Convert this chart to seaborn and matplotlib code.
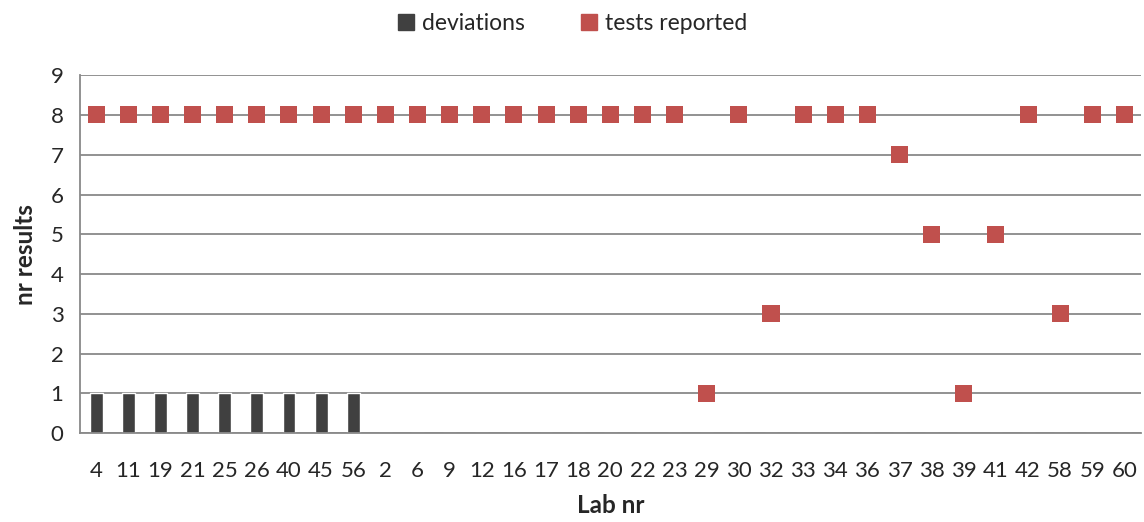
import numpy as np
import pandas as pd
import matplotlib
matplotlib.use("Agg")
import matplotlib.pyplot as plt
import seaborn as sns
from matplotlib.ticker import FixedLocator
from matplotlib.lines import Line2D

# --- data ---
LABS = ["4", "11", "19", "21", "25", "26", "40", "45", "56", "2", "6", "9", "12",
        "16", "17", "18", "20", "22", "23", "29", "30", "32", "33", "34", "36",
        "37", "38", "39", "41", "42", "58", "59", "60"]
DEVIATIONS = [1, 1, 1, 1, 1, 1, 1, 1, 1] + [0] * 24
TESTS_REPORTED = [8] * 19 + [1, 8, 3, 8, 8, 8, 7, 5, 1, 5, 8, 3, 8, 8]

BAR_COLOR = "#404040"
MARK_COLOR = "#C0504D"
GRID_COLOR = "#898989"

sns.set_style("white")
plt.rcParams["font.family"] = ["Lato", "DejaVu Sans"]

df = pd.DataFrame({"lab": LABS, "deviations": DEVIATIONS, "tests": TESTS_REPORTED})

fig = plt.figure(figsize=(11.44, 5.22), dpi=100)
ax = fig.add_axes([0.07, 0.17, 0.927, 0.686])

sns.barplot(data=df, x="lab", y="deviations", color=BAR_COLOR, width=0.4,
            saturation=1, ax=ax, zorder=2)
sns.scatterplot(data=df, x="lab", y="tests", marker="s", s=150, color=MARK_COLOR,
                edgecolor="none", ax=ax, zorder=3)

n = len(LABS)
ax.set_xlim(-0.5, n - 0.5)
ax.set_ylim(0, 9)
ax.set_yticks(range(10))
ax.yaxis.grid(True, color=GRID_COLOR, lw=1.3, zorder=0)
ax.set_axisbelow(True)

# category labels at centres, tick marks at the boundaries
ax.xaxis.set_minor_locator(FixedLocator(np.arange(-0.5, n, 1)))
ax.tick_params(axis="x", which="major", length=0, pad=20, labelsize=16)
ax.tick_params(axis="x", which="minor", length=8, color=GRID_COLOR, width=1.3)
ax.tick_params(axis="y", which="major", length=8, color=GRID_COLOR, width=1.3,
               labelsize=16, pad=4)

for side in ["top", "right"]:
    ax.spines[side].set_visible(False)
for side in ["left", "bottom"]:
    ax.spines[side].set_color(GRID_COLOR)
    ax.spines[side].set_linewidth(1.3)

ax.set_xlabel("Lab nr", fontsize=17.5, fontweight="bold", labelpad=9)
ax.set_ylabel("nr results", fontsize=17.5, fontweight="bold", labelpad=10)

handles = [
    Line2D([], [], marker="s", linestyle="none", markersize=12, color=BAR_COLOR),
    Line2D([], [], marker="s", linestyle="none", markersize=12, color=MARK_COLOR),
]
fig.legend(handles, ["deviations", "tests reported"], loc="upper center",
           bbox_to_anchor=(0.5, 1.015), ncol=2, frameon=False, fontsize=16.5,
           handlelength=0.8, handletextpad=0.3, columnspacing=2.4)

fig.savefig("out.png", dpi=100)
